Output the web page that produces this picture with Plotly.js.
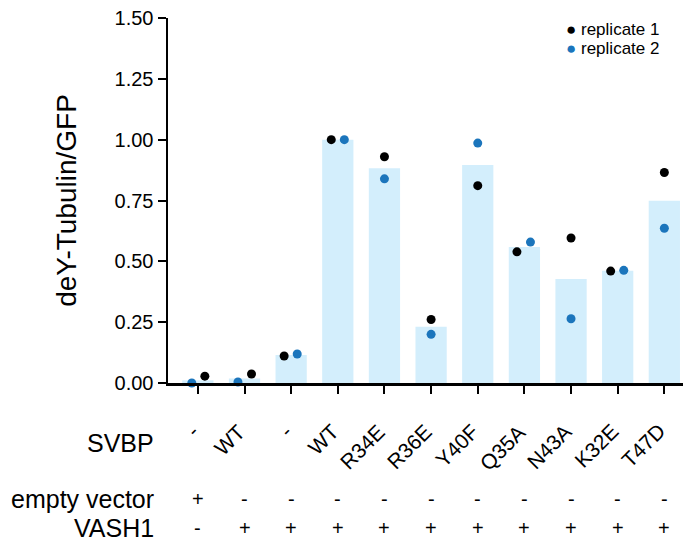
<!DOCTYPE html>
<html>
<head>
<meta charset="utf-8">
<script src="https://cdn.plot.ly/plotly-3.0.1.min.js"></script>
<style>html,body{margin:0;padding:0;background:#fff;}#chart{width:686px;height:541px;}</style>
</head>
<body>
<div id="chart"></div>
<script>
// ---- data ----
const svbp = ["-", "WT", "-", "WT", "R34E", "R36E", "Y40F", "Q35A", "N43A", "K32E", "T47D"];
const emptyVector = ["+", "-", "-", "-", "-", "-", "-", "-", "-", "-", "-"];
const vash1 = ["-", "+", "+", "+", "+", "+", "+", "+", "+", "+", "+"];
const barMean = [0.011, 0.019, 0.115, 1.0, 0.883, 0.231, 0.896, 0.559, 0.427, 0.461, 0.749];
const replicate1 = [0.028, 0.037, 0.111, 1.0, 0.930, 0.261, 0.811, 0.539, 0.596, 0.460, 0.865];
const replicate2 = [0.0, 0.004, 0.119, 1.0, 0.839, 0.200, 0.986, 0.579, 0.264, 0.463, 0.636];
const seriesNames = ["replicate 1", "replicate 2"];
const yTicks = [0, 0.25, 0.5, 0.75, 1.0, 1.25, 1.5];

// ---- layout helpers (horizontal jitter of the dots, not data) ----
const jitter1 = [0.15, 0.15, -0.15, -0.14, 0, 0, 0, -0.16, 0, -0.15, 0];
const jitter2 = [-0.13, -0.14, 0.13, 0.14, 0, 0, 0, 0.13, 0, 0.13, 0];
const colors = ["#000000", "#1b75bc"];

const idx = svbp.map((_, i) => i);
const FONT = "Liberation Sans, Arial, sans-serif";

const traces = [
  {type: "bar", x: idx, y: barMean, width: 0.67, marker: {color: "#d3eefc"}, showlegend: false, hoverinfo: "skip"},
  {type: "scatter", mode: "markers", name: seriesNames[0], x: idx.map(i => i + jitter1[i]), y: replicate1,
   marker: {color: colors[0], size: 9}, cliponaxis: false, showlegend: false},
  {type: "scatter", mode: "markers", name: seriesNames[1], x: idx.map(i => i + jitter2[i]), y: replicate2,
   marker: {color: colors[1], size: 9}, cliponaxis: false, showlegend: false}
];

const W = 686, H = 541;
const mL = 168, mR = 3;
const plotTop = 18, plotBottom = 383;
const plotH = plotBottom - plotTop, plotW = W - mL - mR;
function py(px) { return (plotBottom - px) / plotH; }
function pxX(px) { return (px - mL) / plotW; }

const annotations = [];
// rotated SVBP labels under each tick
svbp.forEach((t, i) => annotations.push({
  xref: "x", yref: "paper", x: i, y: py(417), xanchor: "right", yanchor: "top", xshift: 8,
  text: t, textangle: -45, showarrow: false, font: {size: 21, color: "#000", family: FONT}
}));
const rows = [
  {label: "SVBP", y: 443, vals: null},
  {label: "empty vector", y: 499, vals: emptyVector},
  {label: "VASH1", y: 528, vals: vash1}
];
rows.forEach(r => {
  annotations.push({xref: "paper", yref: "paper", x: pxX(156), y: py(r.y), xanchor: "right", yanchor: "middle",
    text: r.label, showarrow: false, font: {size: 25, color: "#000", family: FONT}});
  if (r.vals) {
    r.vals.forEach((v, i) => annotations.push({xref: "x", yref: "paper", x: i, y: py(r.y), xanchor: "center", yanchor: "middle",
      text: v, showarrow: false, font: {size: 20, color: "#000", family: FONT}}));
  }
});
// legend drawn as annotations
seriesNames.forEach((n, k) => annotations.push({
  xref: "paper", yref: "paper", x: pxX(565), y: py(30 + 18 * k), xanchor: "left", yanchor: "middle",
  text: '<span style="color:' + colors[k] + ';font-size:17px">●</span> ' + n,
  showarrow: false, font: {size: 17, color: "#000", family: FONT}, borderpad: 0
}));

const layout = {
  width: W, height: H,
  margin: {l: mL, r: mR, t: plotTop, b: H - plotBottom},
  paper_bgcolor: "#fff", plot_bgcolor: "#fff",
  font: {family: FONT, color: "#000"},
  showlegend: false,
  xaxis: {
    range: [-0.64, 10.4], tickvals: idx, showticklabels: false,
    ticks: "outside", ticklen: 8, tickwidth: 2, tickcolor: "#000",
    showline: true, linewidth: 2.5, linecolor: "#000", showgrid: false, zeroline: false
  },
  yaxis: {
    range: [0, 1.5], tickvals: yTicks, ticktext: yTicks.map(v => v.toFixed(2)),
    ticks: "outside", ticklen: 8, tickwidth: 2, tickcolor: "#000",
    showline: true, linewidth: 2.5, linecolor: "#000", showgrid: false, zeroline: false,
    tickfont: {size: 20, family: FONT},
    title: {text: "deY-Tubulin/GFP", font: {size: 28, family: FONT}, standoff: 30}
  },
  annotations: annotations
};

Plotly.newPlot("chart", traces, layout, {displayModeBar: false, staticPlot: true});
</script>
</body>
</html>
